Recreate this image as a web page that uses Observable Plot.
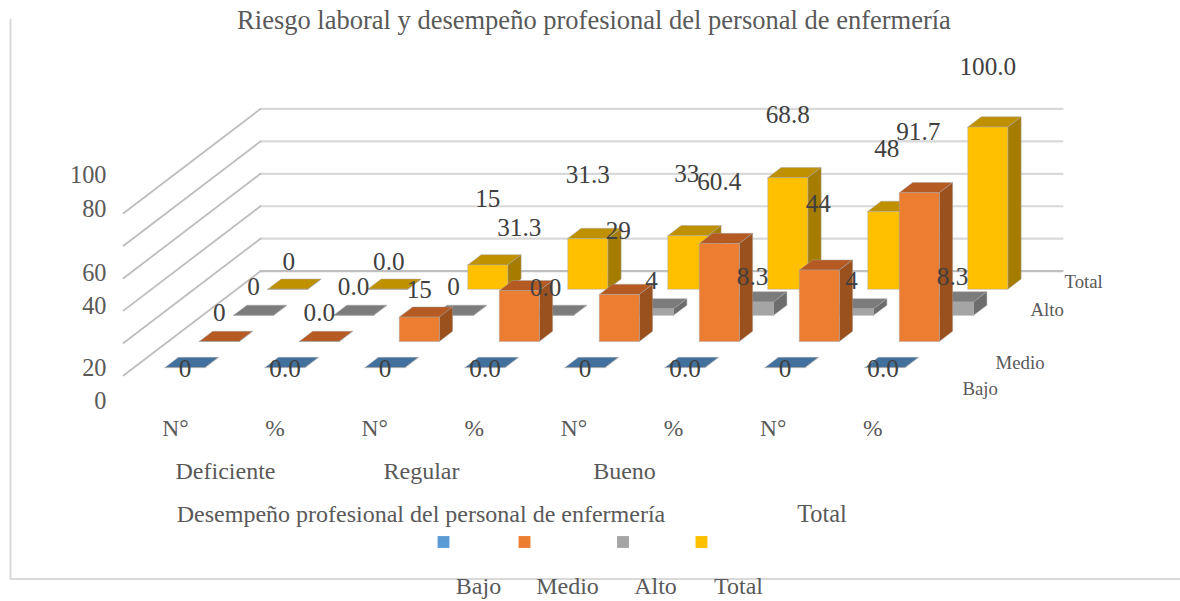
<!DOCTYPE html>
<html><head><meta charset="utf-8">
<style>html,body{margin:0;padding:0;background:#fff}svg{display:block}</style>
<script src="https://cdn.jsdelivr.net/npm/d3@7"></script>
<script src="https://cdn.jsdelivr.net/npm/@observablehq/plot@0.6"></script>
</head><body><div id="chart"></div>
<script>
// ---- data ----
const measures = ["N°","%","N°","%","N°","%","N°","%"];
const groups = ["Deficiente","Regular","Bueno"];
const seriesNames = ["Bajo","Medio","Alto","Total"];
const bajo  = [0,0,0,0,0,0,0,0];
const medio = [0,0,15,31.3,29,60.4,44,91.7];
const alto  = [0,0,0,0,4,8.3,4,8.3];
const total = [0,0,15,31.3,33,68.8,48,100];
const yTicks = [0,20,40,60,80,100];
const titleText = "Riesgo laboral y desempeño profesional del personal de enfermería";
const axisTitle = "Desempeño profesional del personal de enfermería";
const totalTitle = "Total";

// ---- style ----
const faces = [
  {front:"#41719c",top:"#41719c",side:"#335a7c"},
  {front:"#ed7d31",top:"#b55a22",side:"#9a511e"},
  {front:"#a5a5a5",top:"#7c7c7c",side:"#6d6d6d"},
  {front:"#ffc000",top:"#bf9000",side:"#a67c00"}
];
const legendColors = ["#5b9bd5","#ed7d31","#a5a5a5","#ffc000"];

// ---- oblique projection, in scale units ----
const W=1180,H=601;
const pxX=100, pxV=1.622, originX=123, originY=375;
const zx=0.3425, zy=16.09;
const barLeft=0.311, barW=0.40, zFront=0.305, zDepth=0.39;
const floorW=8.02, zMax=4;
const X=p=>(p-originX)/pxX, Y=p=>(originY-p)/pxV;
const U=(c,z)=>c+z*zx, V=(v,z)=>v+z*zy;

const allValues=[bajo,medio,alto,total];
const polys=[], labels=[];
const poly=(id,color,pts)=>{[...pts,pts[0]].forEach(([x,y])=>polys.push({id,color,x,y}));};
for(let d=3;d>=0;d--){
  const z0=d+zFront, z1=z0+zDepth;
  allValues[d].forEach((v,c)=>{
    const l=c+barLeft, r=l+barW, f=faces[d];
    const id=d+"-"+c;
    poly(id+"t",f.top,[[U(l,z0),V(v,z0)],[U(r,z0),V(v,z0)],[U(r,z1),V(v,z1)],[U(l,z1),V(v,z1)]]);
    poly(id+"s",f.side,[[U(r,z0),V(0,z0)],[U(r,z1),V(0,z1)],[U(r,z1),V(v,z1)],[U(r,z0),V(v,z0)]]);
    poly(id+"f",f.front,[[U(l,z0),V(0,z0)],[U(r,z0),V(0,z0)],[U(r,z0),V(v,z0)],[U(l,z0),V(v,z0)]]);
  });
}
// label offsets in pixels from the top-centre of each bar's front face
const labelOffsets=[
  [[0,1],[0,1],[0,1],[0,1],[0,1],[0,1],[0,1],[-2,1]],
  [[0,-29],[0,-29],[0,-27],[0,-63],[-1,-63],[0,-62],[-1,-66],[-1,-61]],
  [[0,-28],[0,-28],[0,-28],[-8,-27],[-2,-28],[-1,-25],[-2,-28],[-1,-25]],
  [[1,-27],[1,-27],[0,-66],[0,-64],[-1,-62],[0,-63],[-1,-62],[0,-60]]
];
for(let d=3;d>=0;d--){
  allValues[d].forEach((v,c)=>{
    const [dx,dy]=labelOffsets[d][c];
    labels.push({
      text:c%2?v.toFixed(1):String(v),
      x:U(c+barLeft+barW/2,d+zFront)+dx/pxX,
      y:V(v,d+zFront)-dy/pxV
    });
  });
}
// gridlines
const grid=[];
yTicks.forEach(t=>{
  grid.push({t,x:U(0,zMax),y:V(t,zMax)},{t,x:U(floorW,zMax),y:V(t,zMax)});
});
const wall=[];
yTicks.forEach(t=>{
  wall.push({t,x:U(0,0),y:V(t,0)},{t,x:U(0,zMax),y:V(t,zMax)});
});
// placed labels
const tickOffsets=[26,25.4,-4,-4.7,-37,-38];
const tickLabels=yTicks.map((t,i)=>({text:String(t),x:X(106),y:V(t,0)-tickOffsets[i]/pxV}));
const measureLabels=measures.map((m,i)=>({text:m,x:X(175+99.6*i),y:Y(427.5)}));
const groupXs=[225,421,624];
const groupLabels=groups.map((g,i)=>({text:g,x:X(groupXs[i]),y:Y(470.5)}));
const seriesXs=[962,995,1030,1064], seriesYs=[388,362,309,281];
const seriesLabels=seriesNames.map((s,i)=>({text:s,x:X(seriesXs[i]),y:Y(seriesYs[i])}));
const legendXs=[443,524,622.5,701], legendTextXs=[478,567,655,738];
const legendDots=seriesNames.map((s,i)=>({s,color:legendColors[i],x:X(legendXs[i]),y:Y(541.5)}));
const legendLabels=seriesNames.map((s,i)=>({text:s,x:X(legendTextXs[i]),y:Y(586)}));
const frameLine=[{x:X(10),y:Y(19)},{x:X(10),y:Y(578.5)},{x:X(1180),y:Y(578.5)}];

const txt=(data,o)=>Plot.text(data,{x:"x",y:"y",text:"text",fill:"#595959",...o});

const chart=Plot.plot({
  width:W,height:H,margin:0,
  style:{fontFamily:"'Liberation Serif','Times New Roman',serif",background:"#fff"},
  x:{axis:null,domain:[X(0),X(W)],range:[0,W]},
  y:{axis:null,domain:[Y(H),Y(0)],range:[H,0]},
  color:{type:"identity"},
  marks:[
    Plot.line(frameLine,{x:"x",y:"y",stroke:"#d9d9d9",strokeWidth:2}),
    Plot.line(grid,{x:"x",y:"y",z:"t",stroke:d=>d.t===0?"#bfbfbf":"#d9d9d9",strokeWidth:2.2}),
    Plot.line(wall,{x:"x",y:"y",z:"t",stroke:"#bdbdbd",strokeWidth:1.8}),
    Plot.line(polys,{x:"x",y:"y",z:"id",fill:"color",stroke:"#a6a6a6",strokeWidth:0.6,strokeOpacity:0.8,curve:"linear"}),
    txt(labels,{fontSize:25.2,fill:"#404040"}),
    txt([{text:titleText,x:X(593.5),y:Y(20)}],{fontSize:26.5}),
    txt(tickLabels,{fontSize:24.3,textAnchor:"end"}),
    txt(measureLabels,{fontSize:23.5}),
    txt(groupLabels,{fontSize:24}),
    txt([{text:axisTitle,x:X(420.5),y:Y(514)}],{fontSize:24}),
    txt([{text:totalTitle,x:X(821.5),y:Y(514)}],{fontSize:24.3}),
    txt(seriesLabels,{fontSize:18.8,textAnchor:"start"}),
    Plot.dot(legendDots,{x:"x",y:"y",fill:"color",symbol:"square",r:6.7}),
    txt(legendLabels,{fontSize:24})
  ]
});
document.getElementById("chart").appendChild(chart);
</script></body></html>
